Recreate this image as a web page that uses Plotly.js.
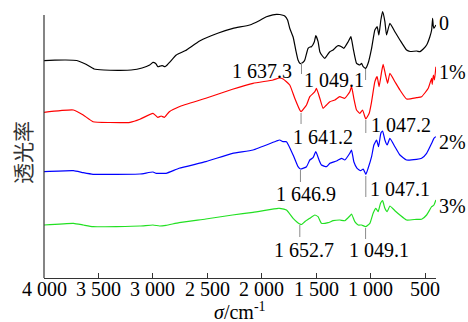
<!DOCTYPE html>
<html>
<head>
<meta charset="utf-8">
<script src="https://cdn.plot.ly/plotly-3.0.1.min.js"></script>
<style>
  html, body { margin: 0; padding: 0; background: #fff; }
  #chart { width: 468px; height: 322px; }
</style>
</head>
<body>
<div id="chart"></div>
<script>
// ---- Data (wavenumber in cm^-1, transmittance in arbitrary offset units) ----
const wn0 = [4000,3900,3800,3700,3620,3540,3450,3300,3200,3100,3030,3000,2975,2955,2930,2914,2890,2870,2847,2786,2700,2572,2400,2266,2112,2030,1959,1900,1867,1837,1800,1791,1765,1745,1714,1690,1669,1650,1637,1620,1607,1577,1560,1546,1520,1506,1485,1469,1445,1423,1400,1377,1347,1320,1301,1270,1249,1209,1184,1163,1132,1102,1086,1071,1049,1026,994,964,943,927,909,893,872,857,826,780,734,673,640,581,551,520,489,460,443,434,428,422,404];
const t0  = [217.3,217.8,218,217.5,214,209,208,207.7,208,210,213,215.7,214.5,211.3,212,212.3,211.3,213,215.7,223,227.5,237,245,249.7,253,257,261.3,263.2,263.7,263.5,262.5,262,258,249.7,241,228,218,214.5,214.7,216,218,229.7,231,231.3,236,242.3,236.3,226.3,222,219.7,223,226.3,228,231,232.3,231.3,229.7,236.3,241.3,229.7,214.7,213,214.7,211.3,209.7,214.7,229.7,248,251.3,243,258,266.3,256.3,243,254.7,246.3,238,228,226.5,227,226.3,229,233,241,248,259.7,252,249.7,253];

const wn1 = [4000,3730,3640,3550,3400,3210,3120,3000,2955,2925,2895,2850,2760,2515,2270,2082,1898,1840,1806,1745,1699,1653,1641,1591,1561,1515,1500,1469,1439,1408,1377,1331,1286,1240,1194,1178,1157,1132,1102,1077,1056,1047,1016,994,964,943,925,902,888,866,847,826,780,734,673,581,535,474,443,438,427,417,404];
const t1  = [165.7,168,163,156.3,155.5,155.7,158.7,164.7,160.7,162,160.7,166.3,171.3,179.7,188.7,194.7,198,200,199,193,179.7,168,166.3,173,181.3,186.3,189.7,179.7,169.7,173,176.3,178,181.3,179.7,186.3,191.3,179.7,168,164.7,168,161.3,159,164.7,176.3,196.3,201.3,191.3,206.3,213.7,203,194.7,204.7,196.3,188,179,180.3,181.3,189.7,199.7,193.7,203,198,211.3];

const wn2 = [4000,3730,3640,3550,3120,3000,2970,2880,2760,2515,2270,2082,1867,1837,1806,1775,1714,1669,1647,1591,1561,1531,1506,1476,1454,1408,1377,1316,1270,1240,1194,1178,1157,1127,1095,1071,1047,1026,994,973,948,930,909,893,872,851,826,780,734,673,581,535,489,443,422,404];
const t2  = [106.3,107.3,105.3,103.7,104,106,104.7,104.7,109.7,116.3,124.7,128,137,138,136.3,136.3,123,111.3,109,111.3,118,120.3,126.3,118,113,111.3,114.7,117,119.7,118,124.7,128,116.3,109.7,107.3,109,103.7,109.7,121.3,133,138,131.3,144.7,147,138,133,139.7,131.3,123,118,118.7,119.7,124.7,134.7,139.7,141.3];

const wn3 = [4000,3730,3640,3550,3120,3000,2940,2880,2760,2515,2270,2082,1852,1837,1775,1714,1653,1637,1607,1561,1515,1485,1454,1393,1347,1286,1240,1194,1178,1148,1117,1086,1049,1010,980,955,934,912,893,872,851,826,780,734,673,581,535,489,443,422,404];
const t3  = [53,54.7,53,51.3,52,53,52,52.7,55.3,59,63,65.7,69.7,69.7,68,59.7,54,53.5,56.3,59.7,63,61.3,54.7,55.3,57.3,58,57.3,62,64,56.3,53,53,51.3,54.7,64.7,69.7,66.3,74.7,77.3,69.7,66.3,72,67.3,63,58,58.7,58.7,63,71.3,73,78];

const seriesNames  = ["0", "1%", "2%", "3%"];
const tickVals     = [4000, 3500, 3000, 2500, 2000, 1500, 1000, 500];
const tickText     = ["4 000", "3 500", "3 000", "2 500", "2 000", "1 500", "1 000", "500"];

// marked peaks: series index, wavenumber, label
const peakSeries = [0, 0, 1, 1, 2, 2, 3, 3];
const peakWn     = [1637.3, 1049.1, 1641.2, 1047.2, 1646.9, 1047.1, 1652.7, 1049.1];
const peakText   = ["1 637.3", "1 049.1", "1 641.2", "1 047.2", "1 646.9", "1 047.1", "1 652.7", "1 049.1"];

// ---- Styling / placement (not data) ----
const colors = ["#000000", "#ff0000", "#0000ff", "#22e022"];
const FONT = "Liberation Serif";
// leader line [top, bottom] in y units, and label centre [x (cm^-1), y]
const leaderY = [[215,204],[209,198],[165,154],[158,145],[108,96],[102,81],[53,41],[50,39]];
const labelPos = [[1997,207],[1336,198],[1439,141.3],[727,153],[1596,84],[732,88.7],[1612,28],[929,28]];
const seriesLabelY = [255.3, 205.7, 136.3, 72.3];

const xs = [wn0, wn1, wn2, wn3];
const ys = [t0, t1, t2, t3];

const traces = xs.map((x, i) => ({
  x: x, y: ys[i], type: "scatter", mode: "lines",
  line: { color: colors[i], width: 1.2, shape: "spline", smoothing: 0.4 },
  name: seriesNames[i], hoverinfo: "skip"
}));

const shapes = [];
const annotations = [];

// y-axis line (shortened; spectra may overshoot above it)
shapes.push({ type: "line", xref: "paper", yref: "y", x0: 0, x1: 0, y0: 0, y1: 263,
  line: { color: "#333", width: 1.2 } });

peakWn.forEach((w, k) => {
  shapes.push({ type: "line", xref: "x", yref: "y", x0: w, x1: w,
    y0: leaderY[k][0], y1: leaderY[k][1], line: { color: "#8a8a8a", width: 1 } });
  annotations.push({ xref: "x", yref: "y", x: labelPos[k][0], y: labelPos[k][1],
    text: peakText[k], showarrow: false, xanchor: "center", yanchor: "middle",
    font: { family: FONT, size: 20, color: "#000" } });
});

seriesNames.forEach((n, i) => {
  annotations.push({ xref: "paper", yref: "y", x: 1, y: seriesLabelY[i], xshift: 1,
    text: n, showarrow: false, xanchor: "left", yanchor: "middle",
    font: { family: FONT, size: 20, color: "#000" } });
});

// x tick labels (placed close under the axis like the reference)
tickVals.forEach((v, k) => {
  annotations.push({ xref: "x", yref: "paper", x: v, y: 0, yshift: -11,
    text: tickText[k], showarrow: false, xanchor: "center", yanchor: "middle",
    font: { family: FONT, size: 20, color: "#000" } });
});

// axis titles
annotations.push({ xref: "paper", yref: "paper", x: 0.5, y: 0, yshift: -33,
  text: "<i>σ</i>/cm<sup>-1</sup>", showarrow: false, xanchor: "center", yanchor: "middle",
  font: { family: FONT, size: 20, color: "#000" } });
annotations.push({ xref: "paper", yref: "paper", x: 0, y: 0.5, xshift: -22, yshift: -10,
  text: "透光率", showarrow: false, textangle: -90, xanchor: "center", yanchor: "middle",
  font: { family: "Noto Sans CJK SC", size: 21, color: "#333" } });

const layout = {
  width: 468, height: 322,
  margin: { l: 44, r: 32, t: 8, b: 44 },
  paper_bgcolor: "#fff", plot_bgcolor: "#fff",
  showlegend: false,
  xaxis: {
    range: [4000, 403], autorange: false,
    tickmode: "array", tickvals: tickVals, showticklabels: false,
    ticks: "inside", ticklen: 5, tickwidth: 1, tickcolor: "#333",
    showline: true, linecolor: "#333", linewidth: 1.2,
    showgrid: false, zeroline: false,
    automargin: false
  },
  yaxis: {
    range: [0, 270], autorange: false,
    showline: false, showticklabels: false, ticks: "", showgrid: false, zeroline: false,
    automargin: false
  },
  shapes: shapes,
  annotations: annotations
};

Plotly.newPlot("chart", traces, layout, { displayModeBar: false, staticPlot: true });
</script>
</body>
</html>
